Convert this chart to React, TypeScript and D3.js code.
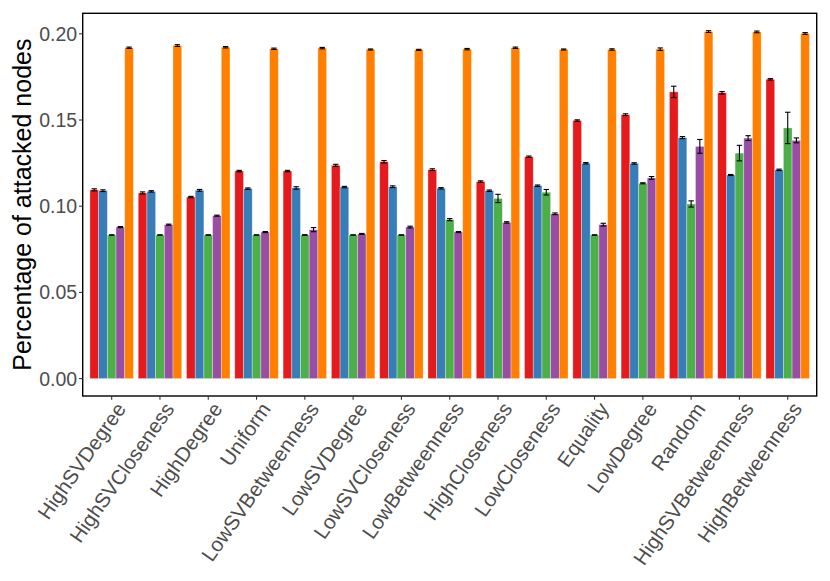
import React from 'react';
import * as d3 from 'd3';

const categories = [
  'HighSVDegree', 'HighSVCloseness', 'HighDegree', 'Uniform', 'LowSVBetweenness',
  'LowSVDegree', 'LowSVCloseness', 'LowBetweenness', 'HighCloseness', 'LowCloseness',
  'Equality', 'LowDegree', 'Random', 'HighSVBetweenness', 'HighBetweenness',
];

const seriesNames = ['s1', 's2', 's3', 's4', 's5'];
const seriesColors = ['#E41A1C', '#377EB8', '#4DAF4A', '#984EA3', '#FF7F00'];

const red = [0.1095, 0.1077, 0.1053, 0.1204, 0.1204, 0.1237, 0.1258, 0.1212, 0.1143, 0.1287, 0.1497, 0.1531, 0.1663, 0.1658, 0.1736];
const redErr = [0.0006, 0.0006, 0.0004, 0.0004, 0.0004, 0.0006, 0.0007, 0.0005, 0.0004, 0.0004, 0.0004, 0.0005, 0.0033, 0.0007, 0.0004];
const blue = [0.109, 0.1086, 0.1092, 0.1102, 0.1106, 0.1111, 0.1113, 0.1104, 0.109, 0.1119, 0.1249, 0.1248, 0.1398, 0.1181, 0.1211];
const blueErr = [0.0005, 0.0004, 0.0005, 0.0004, 0.0007, 0.0004, 0.0005, 0.0004, 0.0004, 0.0004, 0.0004, 0.0004, 0.0006, 0.0003, 0.0004];
const green = [0.0833, 0.0833, 0.0833, 0.0833, 0.0833, 0.0833, 0.0833, 0.0922, 0.1045, 0.1081, 0.0833, 0.1133, 0.1013, 0.1308, 0.1454];
const greenErr = [0.0001, 0.0001, 0.0001, 0.0001, 0.0002, 0.0001, 0.0001, 0.0006, 0.0024, 0.0016, 0.0001, 0.0003, 0.0018, 0.0045, 0.0091];
const purple = [0.0879, 0.0893, 0.0945, 0.085, 0.0864, 0.0839, 0.0879, 0.085, 0.0906, 0.0956, 0.0893, 0.1164, 0.1347, 0.1395, 0.1382];
const purpleErr = [0.0003, 0.0003, 0.0003, 0.0003, 0.0012, 0.0003, 0.0005, 0.0003, 0.0004, 0.0005, 0.0008, 0.0008, 0.004, 0.0014, 0.0014];
const orange = [0.1919, 0.1932, 0.1922, 0.1913, 0.1917, 0.1909, 0.1907, 0.1911, 0.1919, 0.1909, 0.1909, 0.1911, 0.2013, 0.2011, 0.2002];
const orangeErr = [0.0004, 0.0005, 0.0004, 0.0004, 0.0004, 0.0003, 0.0003, 0.0004, 0.0004, 0.0003, 0.0004, 0.0007, 0.0005, 0.0005, 0.0005];

const yTicks = [0, 0.05, 0.1, 0.15, 0.2];
const yTitle = 'Percentage of attacked nodes';

const values = [red, blue, green, purple, orange];
const errors = [redErr, blueErr, greenErr, purpleErr, orangeErr];

const W = 830;
const H = 581;
const left = 82.7;
const right = 816.7;
const top = 13.3;
const bottom = 396;
const font = '"Liberation Sans", Arial, Helvetica, sans-serif';

export default function App() {
  const x0 = d3.scaleBand<string>().domain(categories).range([left, right]).paddingInner(0).paddingOuter(0.1);
  const bw = x0.bandwidth();
  const x1 = d3.scaleBand<string>().domain(seriesNames).range([0.05 * bw, 0.95 * bw]);

  let maxV = 0;
  values.forEach((s, k) => s.forEach((v, i) => { maxV = Math.max(maxV, v + errors[k][i]); }));
  const pad = maxV * 0.05;
  const y = d3.scaleLinear().domain([-pad, maxV + pad]).range([bottom, top]);

  const barW = x1.bandwidth();
  const whisker = barW * 0.62;

  return (
    <svg width={W} height={H} style={{ position: 'absolute', left: 0, top: 0, background: '#fff' }}>
      <rect x={0} y={0} width={W} height={H} fill="#fff" />
      {categories.map((c, i) => (
        <g key={c}>
          {seriesNames.map((s, k) => {
            const v = values[k][i];
            const e = errors[k][i];
            const bx = (x0(c) as number) + (x1(s) as number);
            const cx = bx + barW / 2;
            return (
              <g key={s}>
                <rect x={bx} y={y(v)} width={barW} height={y(0) - y(v)} fill={seriesColors[k]}
                  stroke="#fff" strokeOpacity={0.45} strokeWidth={0.7} />
                <g stroke="#000" strokeWidth={1.1}>
                  <line x1={cx} x2={cx} y1={y(v - e)} y2={y(v + e)} />
                  <line x1={cx - whisker / 2} x2={cx + whisker / 2} y1={y(v - e)} y2={y(v - e)} />
                  <line x1={cx - whisker / 2} x2={cx + whisker / 2} y1={y(v + e)} y2={y(v + e)} />
                </g>
              </g>
            );
          })}
        </g>
      ))}
      <rect x={left} y={top} width={right - left} height={bottom - top} fill="none" stroke="#000" strokeWidth={1.4} />
      {yTicks.map((t) => (
        <g key={t}>
          <line x1={left - 3.7} x2={left} y1={y(t)} y2={y(t)} stroke="#333" strokeWidth={1.1} />
          <text x={left - 5.5} y={y(t)} dy="0.36em" textAnchor="end" fontFamily={font} fontSize={19.5} fill="#4D4D4D">
            {d3.format('.2f')(t)}
          </text>
        </g>
      ))}
      {categories.map((c) => {
        const cx = (x0(c) as number) + bw / 2;
        return (
          <g key={c}>
            <line x1={cx} x2={cx} y1={bottom} y2={bottom + 3.7} stroke="#333" strokeWidth={1.1} />
            <text transform={`translate(${cx + 3},${bottom + 4.5}) rotate(-55)`} textAnchor="end" dy="0.72em"
              fontFamily={font} fontSize={20.5} fill="#4D4D4D">
              {c}
            </text>
          </g>
        );
      })}
      <text transform={`translate(31,${(top + bottom) / 2}) rotate(-90)`} textAnchor="middle"
        fontFamily={font} fontSize={25} fill="#000">
        {yTitle}
      </text>
    </svg>
  );
}
